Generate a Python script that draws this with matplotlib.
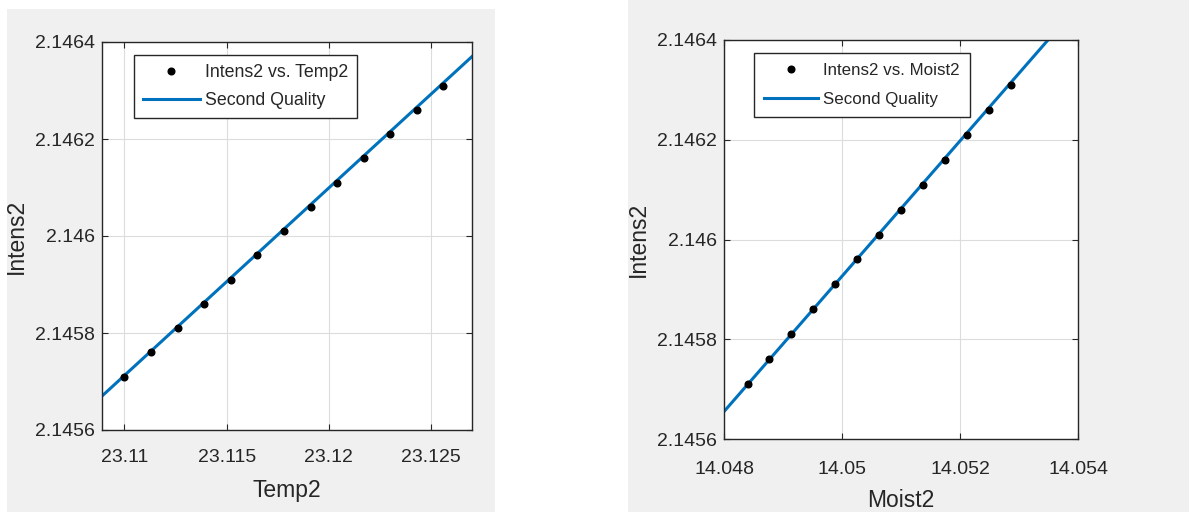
import matplotlib.pyplot as plt
from matplotlib.patches import Rectangle

# data
intens2 = [2.14571, 2.14576, 2.14581, 2.14586, 2.14591, 2.14596, 2.14601,
           2.14606, 2.14611, 2.14616, 2.14621, 2.14626, 2.14631]
temp2 = [23.1100, 23.1113, 23.1126, 23.1139, 23.1152, 23.1165, 23.1178,
         23.1191, 23.1204, 23.1217, 23.1230, 23.1243, 23.1256]
moist2 = [14.04840, 14.04877, 14.04914, 14.04951, 14.04988, 14.05025, 14.05063,
          14.05100, 14.05137, 14.05174, 14.05212, 14.05249, 14.05286]

# fitted lines (ends)
fit_temp_x = [23.1089, 23.1270]
fit_temp_y = [2.14567, 2.14637]
fit_moist_x = [14.0480, 14.0540]
fit_moist_y = [2.145655, 2.146469]

yticks = [2.1456, 2.1458, 2.146, 2.1462, 2.1464]
ytick_labels = ['2.1456', '2.1458', '2.146', '2.1462', '2.1464']
temp_ticks = [23.11, 23.115, 23.12, 23.125]
temp_labels = ['23.11', '23.115', '23.12', '23.125']
moist_ticks = [14.048, 14.05, 14.052, 14.054]
moist_labels = ['14.048', '14.05', '14.052', '14.054']

plt.rcParams['font.family'] = ['Liberation Sans', 'DejaVu Sans']
txt = '#262626'
blue = '#0072BD'

W, H = 1189, 512
fig = plt.figure(figsize=(W / 100, H / 100), dpi=100, facecolor='white')

# gray figure backgrounds (two separate MATLAB windows)
fig.patches.append(Rectangle((7 / W, 0), (495 - 7) / W, (512 - 9) / H,
                             transform=fig.transFigure, facecolor='#f0f0f0',
                             edgecolor='none', zorder=-10))
fig.patches.append(Rectangle((628 / W, 0), (W - 628) / W, 1,
                             transform=fig.transFigure, facecolor='#f0f0f0',
                             edgecolor='none', zorder=-10))


def style(ax, xticks, xlabels, xlim, xname, xpad, xlpad):
    ax.set_facecolor('white')
    ax.set_xlim(xlim)
    ax.set_ylim(2.1456, 2.1464)
    ax.set_xticks(xticks)
    ax.set_xticklabels(xlabels)
    ax.set_yticks(yticks)
    ax.set_yticklabels(ytick_labels)
    ax.grid(True, color='#dcdcdc', linewidth=0.8)
    ax.set_axisbelow(True)
    for s in ax.spines.values():
        s.set_color(txt)
        s.set_linewidth(1.0)
    ax.tick_params(axis='both', direction='in', length=4, width=0.8,
                   colors=txt, labelsize=14, top=True, right=True)
    ax.tick_params(axis='x', pad=xpad)
    ax.tick_params(axis='y', pad=5)
    ax.set_xlabel(xname, fontsize=16.5, color=txt, labelpad=xlpad)
    ax.set_ylabel('Intens2', fontsize=16.5, color=txt, labelpad=5)


def add_legend(ax, anchor, fsize, spacing, bpad):
    leg = ax.legend(loc='upper left', bbox_to_anchor=anchor, borderaxespad=0,
                    fontsize=fsize, handlelength=3.2, labelspacing=spacing,
                    fancybox=False, framealpha=1, edgecolor=txt, numpoints=1,
                    handletextpad=0.3, borderpad=bpad)
    leg.get_frame().set_linewidth(1.0)
    for t in leg.get_texts():
        t.set_color(txt)


# left plot
ax1 = fig.add_axes([102 / W, 1 - 430 / H, 370 / W, 388 / H])
ax1.plot(temp2, intens2, 'o', color='black', markersize=4.8,
         label='Intens2 vs. Temp2', zorder=3)
ax1.plot(fit_temp_x, fit_temp_y, color=blue, linewidth=2.2,
         label='Second Quality', zorder=2)
style(ax1, temp_ticks, temp_labels, (23.1089, 23.1270), 'Temp2', 14, 9)
add_legend(ax1, (0.0865, 0.9665), 12.8, 0.62, 0.5)

# right plot
ax2 = fig.add_axes([724 / W, 1 - 439 / H, 354 / W, 399 / H])
ax2.plot(moist2, intens2, 'o', color='black', markersize=4.8,
         label='Intens2 vs. Moist2', zorder=3)
ax2.plot(fit_moist_x, fit_moist_y, color=blue, linewidth=2.2,
         label='Second Quality', zorder=2)
style(ax2, moist_ticks, moist_labels, (14.048, 14.054), 'Moist2', 16, 8)
add_legend(ax2, (0.0847, 0.967), 12.2, 0.8, 0.6)

fig.savefig('out.png', dpi=100)
